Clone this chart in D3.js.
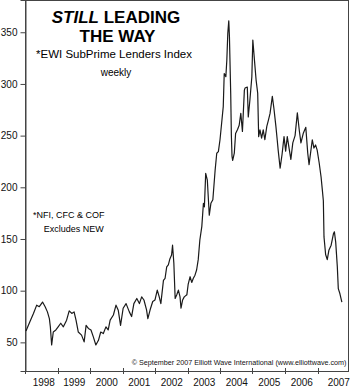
<!DOCTYPE html>
<html>
<head>
<meta charset="utf-8">
<script src="https://cdn.jsdelivr.net/npm/d3@7"></script>
<style>
  html, body { margin: 0; padding: 0; background: #fff; }
  svg { display: block; font-family: "Liberation Sans", Arial, Helvetica, sans-serif; }
</style>
</head>
<body>
<svg id="chart" width="350" height="387"></svg>
<script>
// ---- data ----
const dates = [
  1998.03,1998.15,1998.26,1998.36,1998.44,1998.54,1998.62,1998.69,1998.75,1998.78,
  1998.82,1998.87,1998.95,1999.02,1999.10,1999.18,1999.28,1999.36,1999.44,1999.51,
  1999.57,1999.64,1999.74,1999.82,1999.88,1999.95,2000.03,2000.10,2000.18,2000.26,
  2000.33,2000.41,2000.49,2000.56,2000.62,2000.72,2000.80,2000.87,2000.94,2001.02,
  2001.11,2001.21,2001.28,2001.35,2001.44,2001.52,2001.59,2001.66,2001.74,2001.78,
  2001.85,2001.93,2002.00,2002.07,2002.13,2002.18,2002.26,2002.31,2002.36,2002.41,
  2002.46,2002.51,2002.54,2002.58,2002.62,2002.67,2002.72,2002.77,2002.80,2002.85,
  2002.90,2002.98,2003.02,2003.08,2003.13,2003.18,2003.23,2003.28,2003.33,2003.38,
  2003.44,2003.49,2003.52,2003.56,2003.61,2003.67,2003.72,2003.78,2003.85,2003.90,
  2003.95,2004.00,2004.05,2004.10,2004.13,2004.18,2004.21,2004.24,2004.27,2004.29,
  2004.33,2004.35,2004.37,2004.39,2004.44,2004.48,2004.54,2004.59,2004.64,2004.69,
  2004.75,2004.77,2004.84,2004.87,2004.92,2004.98,2005.01,2005.06,2005.11,2005.16,
  2005.19,2005.23,2005.28,2005.33,2005.38,2005.44,2005.49,2005.54,2005.61,2005.66,
  2005.72,2005.76,2005.79,2005.85,2005.91,2005.97,2006.02,2006.07,2006.13,2006.18,
  2006.24,2006.31,2006.38,2006.44,2006.49,2006.56,2006.64,2006.70,2006.74,2006.79,
  2006.84,2006.89,2006.94,2006.99,2007.05,2007.11,2007.15,2007.18,2007.20,2007.25,
  2007.30,2007.35,2007.42,2007.49,2007.52,2007.56,2007.61,2007.64,2007.69,2007.75
];
const indexValues = [
  61,70,78,86,84.5,89,84.5,79.5,73,65,
  47.5,60,62,65,68.5,65,71.5,80.5,78,79.5,
  71.5,60,57,50.5,66.5,63.5,62,55.5,47.5,52,
  60,58.5,65,62,71.5,76.5,86,81,66.5,83,
  87.5,79.5,75,87.5,92.5,87.5,94,91,81.5,73,
  81.5,89.5,91,100.5,94,87.5,110,112,123,125,
  131,134.5,144,126.5,92.5,96,100.5,94,83,91,
  94,96,106,113.5,108,112,115,120,130,149,
  162,184.5,181,213.5,207,173,184.5,188,216.5,233,
  234.5,246,262,278,310,307,323,349,361,346,
  290,250,230,226,233,252,256,260,271.5,254,
  294,296,297,268,284.5,307,342.5,323,304,291,
  249,255.5,247.5,255.5,246,259,265,271.5,288,276,
  259,246,236,218.5,232,249,235,249,237,227,
  243,250,272,255,243,252,258,233,222,234,
  246,238,241,236,224,210,197,187,152,135,
  130,139,144,155,157,147,123,102,97,89
];
const yTickValues = [50, 100, 150, 200, 250, 300, 350];
const yearTicks = [1998, 1999, 2000, 2001, 2002, 2003, 2004, 2005, 2006, 2007];
const yearLabels = ["1998","1999","2000","2001","2002","2003","2004","2005","2006","2007"];
const titleLines = ["LEADING", "THE WAY"];
const subtitle = "*EWI SubPrime Lenders Index";
const freq = "weekly";
const noteLines = ["*NFI, CFC & COF", "Excludes NEW"];
const credit = "\u00A9 September 2007 Elliott Wave International (www.elliottwave.com)";

// ---- layout ----
const svg = d3.select("#chart");
const plotL = 25, plotR = 348, plotT = 0, plotB = 371;
const x = d3.scaleLinear().domain([1998, 2008]).range([25, 350]);
const y = d3.scaleLinear().domain([22.3, 381.2]).range([plotB, plotT]);
const axisColor = "#444";

// frame
svg.append("rect")
  .attr("x", plotL + 0.5).attr("y", plotT + 0.5)
  .attr("width", plotR - plotL).attr("height", plotB - plotT)
  .attr("fill", "none").attr("stroke", axisColor).attr("stroke-width", 1);

// left axis
const yAxis = d3.axisLeft(y).tickValues(yTickValues).tickSize(5).tickPadding(3);
const gy = svg.append("g").attr("transform", `translate(${plotL + 0.5},0)`).call(yAxis);
gy.select(".domain").attr("stroke", axisColor);
gy.selectAll(".tick line").attr("stroke", axisColor);
gy.selectAll(".tick text").attr("font-size", 10).attr("fill", "#111")
  .attr("font-family", "Liberation Sans, Arial, sans-serif");

// bottom axis ticks (crossing the baseline)
const gx = svg.append("g");
gx.selectAll("line").data(yearTicks).enter().append("line")
  .attr("x1", d => Math.round(x(d)) + 0.5).attr("x2", d => Math.round(x(d)) + 0.5)
  .attr("y1", plotB - 3).attr("y2", plotB + 3)
  .attr("stroke", axisColor);
const labelShift = (i) => i === 0 ? 2.5 : (i === yearLabels.length - 1 ? 5 : 0.5);
gx.selectAll("text").data(yearLabels).enter().append("text")
  .attr("x", (d, i) => x(yearTicks[i] + 0.5) + labelShift(i))
  .attr("y", 386)
  .attr("text-anchor", "middle")
  .attr("font-size", 10).attr("fill", "#111")
  .text(d => d);

// line
const line = d3.line()
  .x((d, i) => x(dates[i]))
  .y(d => y(d));
svg.append("path")
  .datum(indexValues)
  .attr("d", line)
  .attr("fill", "none")
  .attr("stroke", "#1a1a1a")
  .attr("stroke-width", 1.2)
  .attr("stroke-linejoin", "round");

// title
const t1 = svg.append("text").attr("x", 116).attr("y", 22.5)
  .attr("text-anchor", "middle").attr("font-size", 17).attr("font-weight", "bold").attr("fill", "#000");
t1.append("tspan").attr("font-style", "italic").text("STILL");
t1.append("tspan").text(" " + titleLines[0]);
svg.append("text").attr("x", 117.5).attr("y", 42.3)
  .attr("text-anchor", "middle").attr("font-size", 17).attr("font-weight", "bold").attr("fill", "#000")
  .text(titleLines[1]);
svg.append("text").attr("x", 114).attr("y", 58.3)
  .attr("text-anchor", "middle").attr("font-size", 11.5).attr("fill", "#000")
  .text(subtitle);
svg.append("text").attr("x", 116).attr("y", 76)
  .attr("text-anchor", "middle").attr("font-size", 10).attr("fill", "#000")
  .text(freq);

// note
svg.append("text").attr("x", 68.7).attr("y", 218.3)
  .attr("text-anchor", "middle").attr("font-size", 9).attr("fill", "#000")
  .text(noteLines[0]);
svg.append("text").attr("x", 73.7).attr("y", 232.3)
  .attr("text-anchor", "middle").attr("font-size", 9).attr("fill", "#000")
  .text(noteLines[1]);

// credit
svg.append("text").attr("x", 346.5).attr("y", 365)
  .attr("text-anchor", "end").attr("font-size", 7.2).attr("fill", "#111")
  .text(credit);
</script>
</body>
</html>
